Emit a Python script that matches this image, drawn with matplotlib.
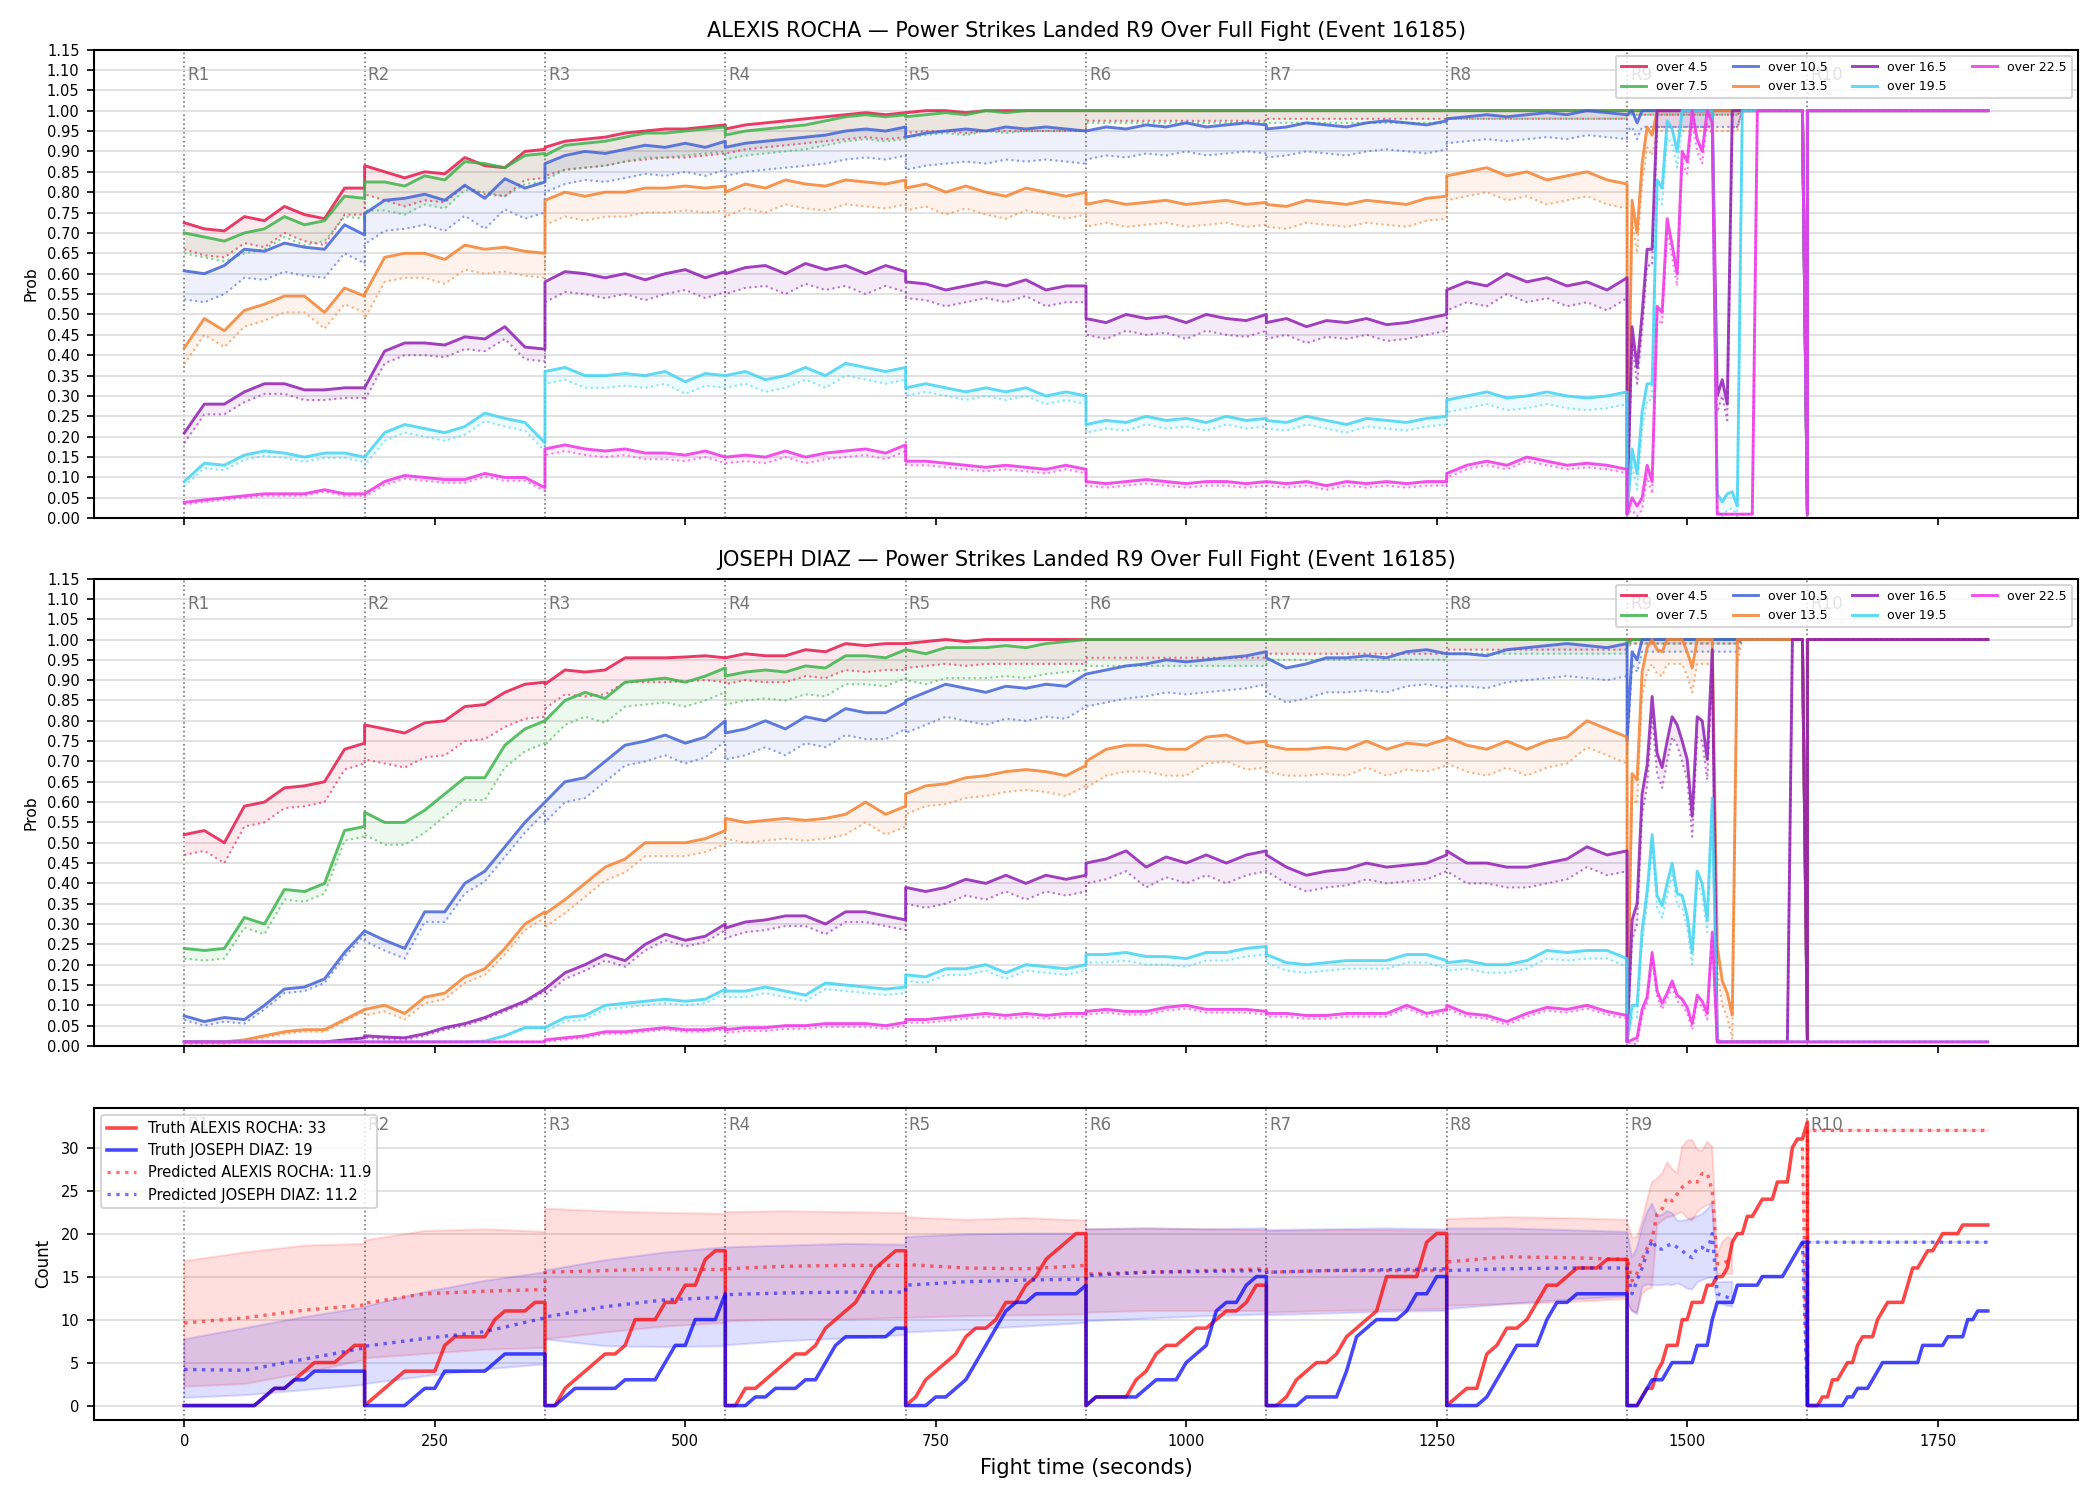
import numpy as np
import matplotlib.pyplot as plt
import matplotlib.transforms as mtransforms

plt.rcParams['font.family'] = ['DejaVu Sans']
plt.rcParams['axes.linewidth'] = 1.0

LINES = ['over 4.5', 'over 7.5', 'over 10.5', 'over 13.5', 'over 16.5', 'over 19.5', 'over 22.5']
COLORS = ['#e6194b', '#3cb44b', '#4363d8', '#f58231', '#911eb4', '#42d4f4', '#f032e6']
ROUND_STARTS = [0, 180, 360, 540, 720, 900, 1080, 1260, 1440, 1620]
END_T = 1800

# rounds 1-8 sampled every 20 s (0..180 within round); rows = rounds
R_45 = [0.725, 0.71, 0.705, 0.74, 0.73, 0.765, 0.745, 0.735, 0.81, 0.81,
        0.865, 0.85, 0.835, 0.85, 0.845, 0.885, 0.865, 0.86, 0.90, 0.905,
        0.91, 0.925, 0.93, 0.935, 0.945, 0.95, 0.955, 0.955, 0.96, 0.965,
        0.955, 0.965, 0.97, 0.975, 0.98, 0.985, 0.99, 0.995, 0.99, 0.995,
        0.995, 1.0, 1.0, 0.995, 1.0, 1.0, 1.0, 1.0, 1.0, 1.0,
        1.0, 1.0, 1.0, 1.0, 1.0, 1.0, 1.0, 1.0, 1.0, 1.0,
        1.0, 1.0, 1.0, 1.0, 1.0, 1.0, 1.0, 1.0, 1.0, 1.0,
        1.0, 1.0, 1.0, 1.0, 1.0, 1.0, 1.0, 1.0, 1.0, 1.0]
R_75 = [0.70, 0.69, 0.68, 0.70, 0.71, 0.74, 0.72, 0.73, 0.79, 0.785,
        0.825, 0.825, 0.815, 0.84, 0.83, 0.875, 0.87, 0.86, 0.89, 0.895,
        0.89, 0.915, 0.92, 0.925, 0.935, 0.945, 0.945, 0.95, 0.955, 0.96,
        0.94, 0.95, 0.955, 0.96, 0.965, 0.975, 0.985, 0.99, 0.985, 0.99,
        0.985, 0.99, 0.995, 0.99, 1.0, 0.995, 1.0, 1.0, 1.0, 1.0,
        1.0, 1.0, 1.0, 1.0, 1.0, 1.0, 1.0, 1.0, 1.0, 1.0,
        1.0, 1.0, 1.0, 1.0, 1.0, 1.0, 1.0, 1.0, 1.0, 1.0,
        1.0, 1.0, 1.0, 1.0, 1.0, 1.0, 1.0, 1.0, 1.0, 1.0]
R_105 = [0.607, 0.60, 0.62, 0.66, 0.655, 0.675, 0.665, 0.66, 0.72, 0.695,
         0.747, 0.78, 0.785, 0.795, 0.78, 0.817, 0.785, 0.833, 0.81, 0.825,
         0.87, 0.89, 0.90, 0.895, 0.905, 0.915, 0.91, 0.92, 0.91, 0.925,
         0.91, 0.92, 0.925, 0.93, 0.935, 0.94, 0.95, 0.955, 0.95, 0.96,
         0.935, 0.945, 0.95, 0.955, 0.95, 0.96, 0.955, 0.96, 0.955, 0.95,
         0.95, 0.96, 0.955, 0.965, 0.96, 0.97, 0.96, 0.965, 0.97, 0.965,
         0.955, 0.96, 0.97, 0.965, 0.96, 0.97, 0.975, 0.97, 0.965, 0.975,
         0.98, 0.985, 0.99, 0.985, 0.99, 0.995, 0.99, 1.0, 0.995, 0.99]
R_135 = [0.418, 0.49, 0.46, 0.51, 0.525, 0.545, 0.545, 0.505, 0.565, 0.545,
         0.55, 0.64, 0.65, 0.65, 0.635, 0.67, 0.66, 0.665, 0.655, 0.65,
         0.78, 0.80, 0.79, 0.80, 0.80, 0.81, 0.81, 0.815, 0.81, 0.815,
         0.80, 0.82, 0.81, 0.83, 0.82, 0.815, 0.83, 0.825, 0.82, 0.83,
         0.81, 0.82, 0.80, 0.815, 0.80, 0.79, 0.81, 0.80, 0.79, 0.80,
         0.77, 0.78, 0.77, 0.775, 0.78, 0.77, 0.775, 0.78, 0.77, 0.775,
         0.77, 0.765, 0.78, 0.775, 0.77, 0.78, 0.775, 0.77, 0.785, 0.79,
         0.84, 0.85, 0.86, 0.84, 0.85, 0.83, 0.84, 0.85, 0.83, 0.82]
R_165 = [0.209, 0.28, 0.28, 0.31, 0.33, 0.33, 0.315, 0.315, 0.32, 0.32,
         0.32, 0.41, 0.43, 0.43, 0.425, 0.445, 0.44, 0.47, 0.42, 0.415,
         0.58, 0.605, 0.60, 0.59, 0.60, 0.585, 0.60, 0.61, 0.59, 0.605,
         0.60, 0.615, 0.62, 0.60, 0.625, 0.61, 0.62, 0.60, 0.62, 0.605,
         0.58, 0.575, 0.56, 0.57, 0.58, 0.57, 0.585, 0.56, 0.57, 0.57,
         0.49, 0.48, 0.50, 0.49, 0.495, 0.48, 0.50, 0.49, 0.485, 0.50,
         0.48, 0.49, 0.47, 0.485, 0.48, 0.49, 0.475, 0.48, 0.49, 0.50,
         0.56, 0.58, 0.57, 0.60, 0.58, 0.59, 0.57, 0.58, 0.56, 0.59]
R_195 = [0.09, 0.135, 0.13, 0.155, 0.165, 0.16, 0.15, 0.16, 0.16, 0.15,
         0.15, 0.21, 0.23, 0.22, 0.21, 0.225, 0.258, 0.245, 0.235, 0.185,
         0.36, 0.37, 0.35, 0.35, 0.355, 0.35, 0.36, 0.335, 0.355, 0.35,
         0.35, 0.36, 0.34, 0.35, 0.37, 0.35, 0.38, 0.37, 0.36, 0.37,
         0.32, 0.33, 0.32, 0.31, 0.32, 0.31, 0.32, 0.30, 0.31, 0.30,
         0.23, 0.24, 0.235, 0.25, 0.24, 0.245, 0.235, 0.25, 0.24, 0.245,
         0.24, 0.235, 0.25, 0.24, 0.23, 0.245, 0.24, 0.235, 0.245, 0.25,
         0.29, 0.30, 0.31, 0.295, 0.30, 0.31, 0.30, 0.295, 0.30, 0.31]
R_225 = [0.039, 0.045, 0.05, 0.055, 0.06, 0.06, 0.06, 0.07, 0.06, 0.06,
         0.06, 0.09, 0.105, 0.10, 0.095, 0.095, 0.11, 0.10, 0.10, 0.075,
         0.17, 0.18, 0.17, 0.165, 0.17, 0.16, 0.16, 0.155, 0.165, 0.15,
         0.15, 0.155, 0.15, 0.165, 0.15, 0.16, 0.165, 0.17, 0.16, 0.18,
         0.14, 0.14, 0.135, 0.13, 0.125, 0.13, 0.125, 0.12, 0.13, 0.12,
         0.09, 0.085, 0.09, 0.095, 0.09, 0.085, 0.09, 0.09, 0.085, 0.09,
         0.09, 0.085, 0.09, 0.08, 0.09, 0.085, 0.09, 0.085, 0.09, 0.09,
         0.11, 0.13, 0.14, 0.13, 0.15, 0.14, 0.13, 0.135, 0.13, 0.12]

D_45 = [0.52, 0.53, 0.50, 0.59, 0.60, 0.635, 0.64, 0.65, 0.73, 0.745,
        0.79, 0.78, 0.77, 0.795, 0.80, 0.835, 0.84, 0.87, 0.89, 0.895,
        0.89, 0.925, 0.92, 0.925, 0.955, 0.955, 0.955, 0.957, 0.96, 0.955,
        0.955, 0.965, 0.96, 0.96, 0.975, 0.97, 0.99, 0.985, 0.99, 0.99,
        0.99, 0.995, 1.0, 0.995, 1.0, 1.0, 1.0, 1.0, 1.0, 1.0,
        1.0, 1.0, 1.0, 1.0, 1.0, 1.0, 1.0, 1.0, 1.0, 1.0,
        1.0, 1.0, 1.0, 1.0, 1.0, 1.0, 1.0, 1.0, 1.0, 1.0,
        1.0, 1.0, 1.0, 1.0, 1.0, 1.0, 1.0, 1.0, 1.0, 1.0]
D_75 = [0.24, 0.235, 0.24, 0.316, 0.30, 0.385, 0.38, 0.40, 0.53, 0.54,
        0.575, 0.55, 0.55, 0.58, 0.62, 0.66, 0.66, 0.74, 0.78, 0.80,
        0.80, 0.85, 0.87, 0.855, 0.895, 0.90, 0.905, 0.895, 0.91, 0.93,
        0.91, 0.92, 0.925, 0.92, 0.935, 0.93, 0.96, 0.96, 0.955, 0.975,
        0.975, 0.965, 0.98, 0.98, 0.98, 0.985, 0.98, 0.99, 0.995, 1.0,
        1.0, 1.0, 1.0, 1.0, 1.0, 1.0, 1.0, 1.0, 1.0, 1.0,
        1.0, 1.0, 1.0, 1.0, 1.0, 1.0, 1.0, 1.0, 1.0, 1.0,
        1.0, 1.0, 1.0, 1.0, 1.0, 1.0, 1.0, 1.0, 1.0, 1.0]
D_105 = [0.074, 0.06, 0.07, 0.065, 0.10, 0.14, 0.145, 0.165, 0.23, 0.283,
         0.283, 0.26, 0.24, 0.33, 0.33, 0.40, 0.43, 0.49, 0.55, 0.60,
         0.60, 0.65, 0.66, 0.70, 0.74, 0.75, 0.765, 0.745, 0.76, 0.80,
         0.77, 0.78, 0.80, 0.78, 0.81, 0.80, 0.83, 0.82, 0.82, 0.845,
         0.85, 0.87, 0.89, 0.88, 0.87, 0.885, 0.88, 0.89, 0.885, 0.915,
         0.915, 0.925, 0.935, 0.94, 0.95, 0.945, 0.95, 0.955, 0.96, 0.97,
         0.955, 0.93, 0.94, 0.955, 0.955, 0.96, 0.955, 0.97, 0.975, 0.965,
         0.965, 0.965, 0.96, 0.975, 0.98, 0.985, 0.99, 0.985, 0.98, 0.99]
D_135 = [0.01, 0.01, 0.01, 0.015, 0.025, 0.035, 0.04, 0.04, 0.065, 0.09,
         0.09, 0.10, 0.08, 0.12, 0.13, 0.17, 0.19, 0.24, 0.30, 0.33,
         0.325, 0.36, 0.40, 0.44, 0.46, 0.50, 0.50, 0.50, 0.51, 0.53,
         0.56, 0.55, 0.555, 0.56, 0.555, 0.56, 0.57, 0.60, 0.57, 0.59,
         0.62, 0.64, 0.645, 0.66, 0.665, 0.675, 0.68, 0.675, 0.665, 0.69,
         0.70, 0.73, 0.74, 0.74, 0.73, 0.73, 0.76, 0.765, 0.745, 0.75,
         0.74, 0.73, 0.73, 0.735, 0.73, 0.75, 0.73, 0.745, 0.74, 0.755,
         0.76, 0.74, 0.73, 0.75, 0.73, 0.75, 0.76, 0.80, 0.78, 0.76]
D_165 = [0.01, 0.01, 0.01, 0.01, 0.01, 0.01, 0.01, 0.01, 0.015, 0.02,
         0.025, 0.022, 0.02, 0.03, 0.045, 0.055, 0.07, 0.09, 0.11, 0.14,
         0.14, 0.18, 0.20, 0.225, 0.21, 0.25, 0.275, 0.26, 0.27, 0.30,
         0.29, 0.305, 0.31, 0.32, 0.32, 0.30, 0.33, 0.33, 0.32, 0.31,
         0.39, 0.38, 0.39, 0.41, 0.40, 0.42, 0.40, 0.42, 0.41, 0.42,
         0.45, 0.46, 0.48, 0.44, 0.465, 0.45, 0.47, 0.45, 0.47, 0.48,
         0.47, 0.44, 0.42, 0.43, 0.435, 0.45, 0.44, 0.445, 0.45, 0.47,
         0.48, 0.45, 0.45, 0.44, 0.44, 0.45, 0.46, 0.49, 0.47, 0.48]
D_195 = [0.01, 0.01, 0.01, 0.01, 0.01, 0.01, 0.01, 0.01, 0.01, 0.01,
         0.01, 0.01, 0.01, 0.01, 0.01, 0.01, 0.012, 0.025, 0.045, 0.045,
         0.045, 0.07, 0.075, 0.10, 0.105, 0.11, 0.115, 0.11, 0.115, 0.14,
         0.135, 0.135, 0.145, 0.135, 0.125, 0.155, 0.15, 0.145, 0.14, 0.145,
         0.175, 0.17, 0.19, 0.19, 0.20, 0.18, 0.20, 0.195, 0.19, 0.20,
         0.225, 0.225, 0.23, 0.22, 0.22, 0.215, 0.23, 0.23, 0.24, 0.245,
         0.225, 0.205, 0.20, 0.205, 0.21, 0.21, 0.21, 0.225, 0.225, 0.21,
         0.205, 0.21, 0.20, 0.20, 0.21, 0.235, 0.23, 0.235, 0.235, 0.215]
D_225 = [0.01, 0.01, 0.01, 0.01, 0.01, 0.01, 0.01, 0.01, 0.01, 0.01,
         0.01, 0.01, 0.01, 0.01, 0.01, 0.01, 0.01, 0.01, 0.01, 0.01,
         0.015, 0.02, 0.025, 0.035, 0.035, 0.04, 0.045, 0.04, 0.04, 0.045,
         0.04, 0.045, 0.045, 0.05, 0.05, 0.055, 0.055, 0.055, 0.05, 0.058,
         0.065, 0.065, 0.07, 0.075, 0.08, 0.075, 0.08, 0.075, 0.08, 0.08,
         0.085, 0.09, 0.085, 0.085, 0.095, 0.10, 0.09, 0.09, 0.09, 0.085,
         0.08, 0.08, 0.075, 0.075, 0.08, 0.08, 0.08, 0.10, 0.08, 0.09,
         0.10, 0.08, 0.075, 0.06, 0.08, 0.095, 0.09, 0.10, 0.085, 0.075]

# round 9 sampled every 5 s (1440..1620); last point is the round-end reset
R9_R = [
    [1.0] * 36 + [0.01],
    [1.0] * 36 + [0.01],
    [0.99, 1.0, 0.97, 1.0] + [1.0] * 32 + [0.01],
    [0.01, 0.78, 0.70, 0.87, 0.96, 0.94] + [1.0] * 30 + [0.01],
    [0.01, 0.47, 0.37, 0.50, 0.66, 0.66] + [1.0] * 12 + [0.30, 0.34, 0.28] + [1.0] * 15 + [0.01],
    [0.01, 0.17, 0.11, 0.26, 0.33, 0.33, 0.83, 0.81, 0.975, 0.955, 0.90] + [1.0] * 7
    + [0.06, 0.04, 0.06, 0.065, 0.03] + [1.0] * 13 + [0.01],
    [0.01, 0.05, 0.03, 0.05, 0.13, 0.09, 0.52, 0.505, 0.735, 0.67, 0.60, 0.90, 0.875,
     1.0, 0.93, 0.90, 1.0, 0.97] + [0.01] * 8 + [1.0] * 10 + [0.01],
]
R9_D = [
    [1.0] * 36 + [0.01],
    [0.99] + [1.0] * 35 + [0.01],
    [0.75, 0.97, 0.95] + [1.0] * 33 + [0.01],
    [0.01, 0.67, 0.655, 0.92, 0.98, 1.0, 0.975, 0.97, 1.0, 1.0, 1.0, 1.0, 0.97, 0.93,
     1.0, 1.0, 1.0, 1.0] + [0.245, 0.16, 0.13, 0.076] + [1.0] * 14 + [0.01],
    [0.01, 0.31, 0.35, 0.62, 0.69, 0.86, 0.72, 0.685, 0.75, 0.81, 0.79, 0.75, 0.705,
     0.565, 0.81, 0.80, 0.705, 0.975] + [0.01] * 15 + [1.0] * 3 + [0.01],
    [0.01, 0.10, 0.10, 0.285, 0.38, 0.52, 0.37, 0.345, 0.40, 0.45, 0.375, 0.37, 0.32,
     0.23, 0.43, 0.40, 0.31, 0.61] + [0.015] + [0.01] * 18,
    [0.01, 0.015, 0.02, 0.09, 0.12, 0.23, 0.135, 0.105, 0.13, 0.16, 0.125, 0.115,
     0.095, 0.055, 0.125, 0.11, 0.08, 0.28] + [0.01] * 19,
]
# round 10 level per line
R10_R = [1.0, 1.0, 1.0, 1.0, 1.0, 1.0, 1.0]
R10_D = [1.0, 1.0, 1.0, 1.0, 1.0, 0.01, 0.01]

# gap between model line and the dotted companion, per round R1..R9
GAP_R = [[0.065, 0.07, 0.07, 0.06, 0.05, 0.025, 0.02, 0.02, 0.01],
         [0.05, 0.07, 0.06, 0.06, 0.05, 0.03, 0.03, 0.02, 0.01],
         [0.07, 0.075, 0.07, 0.07, 0.08, 0.07, 0.07, 0.06, 0.04],
         [0.04, 0.06, 0.06, 0.06, 0.055, 0.055, 0.055, 0.06, 0.05],
         [0.025, 0.03, 0.05, 0.05, 0.04, 0.04, 0.04, 0.05, 0.04],
         [0.012, 0.02, 0.03, 0.03, 0.02, 0.02, 0.02, 0.03, 0.04],
         [0.005, 0.008, 0.015, 0.015, 0.01, 0.01, 0.01, 0.01, 0.03]]
GAP_D = [[0.05, 0.085, 0.06, 0.065, 0.06, 0.045, 0.035, 0.025, 0.01],
         [0.025, 0.055, 0.06, 0.07, 0.075, 0.065, 0.05, 0.035, 0.01],
         [0.01, 0.025, 0.05, 0.065, 0.08, 0.08, 0.085, 0.08, 0.03],
         [0.005, 0.015, 0.033, 0.05, 0.05, 0.065, 0.065, 0.065, 0.06],
         [0.0, 0.005, 0.015, 0.025, 0.04, 0.05, 0.04, 0.05, 0.05],
         [0.0, 0.0, 0.01, 0.015, 0.015, 0.02, 0.02, 0.02, 0.03],
         [0.0, 0.0, 0.005, 0.008, 0.008, 0.008, 0.008, 0.008, 0.015]]

# ---- bottom panel: truth counts, R1-R8 every 10 s ----
TRUTH_R = [0, 0, 0, 0, 0, 0, 0, 0, 1, 2, 2, 3, 4, 5, 5, 5, 6, 7, 7,
           0, 1, 2, 3, 4, 4, 4, 4, 7, 8, 8, 8, 8, 10, 11, 11, 11, 12, 12,
           0, 0, 2, 3, 4, 5, 6, 6, 7, 10, 10, 10, 12, 12, 14, 14, 17, 18, 18,
           0, 0, 2, 2, 3, 4, 5, 6, 6, 7, 9, 10, 11, 12, 14, 16, 17, 18, 18,
           0, 1, 3, 4, 5, 6, 8, 9, 9, 10, 12, 12, 14, 15, 17, 18, 19, 20, 20,
           0, 1, 1, 1, 1, 3, 4, 6, 7, 7, 8, 9, 9, 10, 11, 11, 12, 14, 14,
           0, 0, 1, 3, 4, 5, 5, 6, 8, 9, 10, 11, 15, 15, 15, 15, 19, 20, 20,
           0, 1, 2, 2, 6, 7, 9, 9, 10, 12, 14, 14, 15, 16, 16, 16, 17, 17, 17]
TRUTH_D = [0, 0, 0, 0, 0, 0, 0, 0, 1, 2, 2, 3, 3, 4, 4, 4, 4, 4, 4,
           0, 0, 0, 0, 0, 1, 2, 2, 4, 4, 4, 4, 4, 5, 6, 6, 6, 6, 6,
           0, 0, 1, 2, 2, 2, 2, 2, 3, 3, 3, 3, 5, 7, 7, 10, 10, 10, 13,
           0, 0, 0, 1, 1, 2, 2, 2, 3, 3, 5, 7, 8, 8, 8, 8, 8, 9, 9,
           0, 0, 0, 1, 1, 2, 3, 5, 7, 9, 11, 12, 12, 13, 13, 13, 13, 13, 14,
           0, 1, 1, 1, 1, 1, 2, 3, 3, 3, 5, 6, 7, 11, 12, 12, 14, 15, 15,
           0, 0, 0, 0, 1, 1, 1, 1, 4, 8, 9, 10, 10, 10, 11, 13, 13, 15, 15,
           0, 0, 0, 0, 1, 3, 5, 7, 7, 7, 10, 12, 12, 13, 13, 13, 13, 13, 13]
# R9 and R10 every 5 s
TRUTH9_R = [0, 0, 0, 1, 2, 2, 4, 5, 7, 7, 7, 10, 10, 12, 12, 12, 14, 14, 15, 15, 16, 19,
            20, 20, 22, 22, 23, 24, 24, 24, 26, 26, 26, 30, 31, 31, 33]
TRUTH9_D = [0, 0, 0, 1, 2, 3, 3, 3, 4, 5, 5, 5, 5, 5, 7, 7, 7, 10, 12, 12, 12, 12,
            14, 14, 14, 14, 14, 15, 15, 15, 15, 15, 16, 17, 18, 19, 19]
TRUTH10_R = [0, 0, 0, 1, 1, 3, 3, 4, 5, 5, 7, 8, 8, 8, 10, 11, 12, 12, 12, 12, 14, 16,
             16, 17, 18, 18, 19, 20, 20, 20, 20, 21, 21, 21, 21, 21, 21]
TRUTH10_D = [0, 0, 0, 0, 0, 0, 0, 0, 1, 1, 2, 2, 2, 3, 4, 5, 5, 5, 5, 5, 5, 5,
             5, 7, 7, 7, 7, 7, 8, 8, 8, 8, 10, 10, 11, 11, 11]

# predicted mean and band, R1-R8 at 0/60/120/180 s of each round
PRED_R = [9.6, 10.2, 11.1, 11.7, 11.9, 13.0, 13.3, 13.5, 15.5, 15.7, 15.9, 15.8,
          15.9, 16.2, 16.3, 16.3, 16.4, 16.0, 15.9, 16.3, 15.3, 15.5, 15.7, 15.9,
          15.5, 15.7, 15.7, 15.7, 16.7, 17.3, 17.2, 17.0]
HI_R = [16.8, 17.8, 18.6, 18.8, 19.2, 20.3, 20.5, 20.2, 22.9, 22.6, 22.4, 22.3,
        22.5, 22.6, 22.5, 22.4, 21.9, 21.6, 21.8, 21.5, 20.5, 20.6, 20.5, 20.4,
        20.3, 20.4, 20.4, 20.3, 21.7, 21.9, 21.8, 21.6]
LO_R = [2.2, 2.5, 3.8, 5.3, 5.5, 6.0, 6.5, 6.7, 7.7, 8.5, 9.2, 9.6,
        9.8, 10.0, 10.0, 10.2, 10.2, 10.4, 10.5, 10.6, 10.8, 11.0, 11.0, 11.0,
        10.8, 11.0, 11.1, 11.2, 11.6, 11.8, 12.0, 12.4]
PRED_D = [4.2, 4.1, 5.4, 6.7, 6.9, 7.8, 8.6, 10.2, 10.3, 11.5, 12.3, 12.6,
          12.9, 13.1, 13.2, 13.2, 14.0, 14.4, 14.6, 14.7, 15.1, 15.5, 15.6, 15.7,
          15.5, 15.7, 15.8, 15.9, 15.7, 15.9, 16.0, 16.0]
HI_D = [7.7, 9.0, 10.3, 11.4, 11.5, 13.2, 14.5, 15.5, 15.7, 16.9, 17.8, 18.4,
        18.4, 18.6, 18.8, 18.7, 19.6, 19.9, 20.0, 20.0, 20.5, 20.6, 20.5, 20.6,
        20.4, 20.5, 20.6, 20.5, 20.6, 20.6, 20.4, 20.2]
LO_D = [0.9, 1.2, 1.8, 2.4, 2.5, 3.4, 4.2, 4.8, 7.7, 6.9, 6.8, 6.9,
        7.0, 7.5, 7.8, 8.2, 8.5, 8.8, 9.2, 9.6, 9.8, 10.1, 10.4, 10.6,
        10.5, 10.7, 10.9, 11.0, 11.2, 11.8, 12.3, 12.7]
# R9 every 5 s from 1440 up to 1545 (prediction stops there)
PRED9_R = [17.2, 14.5, 15.4, 17.0, 18.3, 19.4, 22.3, 22.9, 24.2, 23.8, 24.6, 25.4,
           25.8, 26.2, 26.0, 27.0, 27.0, 25.0, 16.5, 16.5, 16.8, 16.7]
HI9_R = [21.5, 19.5, 19.6, 21.5, 24.0, 26.0, 26.4, 27.0, 28.3, 27.5, 27.0, 30.1,
         30.8, 30.9, 29.8, 29.6, 30.7, 30.1, 17.6, 19.0, 19.6, 19.4]
LO9_R = [12.0, 11.0, 10.8, 13.0, 13.5, 13.7, 21.0, 21.5, 21.9, 22.0, 22.3, 22.5,
         21.8, 21.5, 22.5, 23.0, 23.3, 23.5, 15.3, 15.3, 15.3, 15.3]
PRED9_D = [15.7, 13.0, 14.6, 16.0, 17.8, 19.2, 18.2, 18.2, 18.6, 18.8, 18.4, 18.0,
           17.5, 17.2, 18.3, 18.4, 17.8, 20.0, 13.0, 12.8, 12.6, 12.4]
HI9_D = [20.3, 17.2, 18.4, 20.8, 22.5, 23.5, 22.0, 22.2, 22.6, 22.4, 21.5, 21.5,
         21.6, 21.8, 22.0, 22.3, 22.8, 23.5, 14.3, 14.4, 14.4, 14.4]
LO9_D = [12.0, 11.0, 10.6, 13.8, 14.1, 14.0, 14.0, 14.0, 14.1, 14.0, 14.2, 14.0,
         13.6, 13.5, 14.3, 14.6, 14.8, 14.9, 12.0, 11.8, 11.6, 11.5]
# end of R9 (1615, 1620) and the flat R10 prediction
PRED_END_R = [30.0, 0.0]
PRED_END_D = [19.0, 0.0]
PRED10_R = 32.0
PRED10_D = 19.0

TOTAL_R, TOTAL_D = 33, 19
PRED_TOT_R, PRED_TOT_D = 11.9, 11.2

# ---- time grids ----
t20 = np.concatenate([s + np.arange(0, 181, 20) for s in ROUND_STARTS[:8]])
t10 = np.concatenate([s + np.arange(0, 181, 10) for s in ROUND_STARTS[:8]])
t60 = np.concatenate([s + np.arange(0, 181, 60) for s in ROUND_STARTS[:8]])
t9 = 1440 + np.arange(0, 181, 5)
t10r = 1620 + np.arange(0, 181, 5)


def prob_series(main, r9, r10, gaps):
    t = np.concatenate([t20, t9, [1620, END_T]])
    v = np.concatenate([main, r9, [r10, r10]])
    g_main = np.repeat(gaps[:8], 10)
    r9 = np.array(r9)
    g9 = np.where((t9 < 1555) & (r9 > 0.011), gaps[8], 0.0)
    g = np.concatenate([g_main, g9, [0.0, 0.0]])
    lo = np.clip(v - g, 0.005, None)
    return t, v, lo


def draw_rounds(ax, ylab):
    trans = mtransforms.blended_transform_factory(ax.transData, ax.transAxes)
    for i, s in enumerate(ROUND_STARTS):
        ax.axvline(s, color='#555555', ls=':', lw=0.8, alpha=0.8, zorder=0)
        ax.text(s + 3, 0.945, 'R%d' % (i + 1), transform=trans, fontsize=8,
                color='#666666', va='center', ha='left', alpha=0.9)
    ax.grid(axis='y', color='#dddddd', lw=0.8)
    ax.set_axisbelow(True)
    ax.set_ylabel(ylab, fontsize=7.5)
    ax.tick_params(labelsize=7)
    ax.set_xlim(-90, 1890)


fig = plt.figure(figsize=(14, 10), dpi=150)
ax1 = fig.add_axes([0.0448, 0.6545, 0.9447, 0.3125])
ax2 = fig.add_axes([0.0448, 0.3027, 0.9447, 0.3116])
ax3 = fig.add_axes([0.0448, 0.0535, 0.9447, 0.2081])

panels = [
    (ax1, 'ALEXIS ROCHA', [R_45, R_75, R_105, R_135, R_165, R_195, R_225], R9_R, R10_R, GAP_R),
    (ax2, 'JOSEPH DIAZ', [D_45, D_75, D_105, D_135, D_165, D_195, D_225], R9_D, R10_D, GAP_D),
]
for ax, name, mains, r9s, r10s, gaps in panels:
    for i, lab in enumerate(LINES):
        t, v, lo = prob_series(mains[i], r9s[i], r10s[i], gaps[i])
        c = COLORS[i]
        ax.fill_between(t, lo, v, color=c, alpha=0.09, lw=0)
        ax.plot(t, lo, color=c, ls=':', lw=1.0, alpha=0.6)
        ax.plot(t, v, color=c, lw=1.4, alpha=0.85, label=lab)
    ax.set_ylim(0, 1.15)
    ax.set_yticks(np.arange(0, 1.151, 0.05))
    ax.set_yticklabels(['%.2f' % y for y in np.arange(0, 1.151, 0.05)])
    ax.set_title('%s — Power Strikes Landed R9 Over Full Fight (Event 16185)' % name, fontsize=10)
    draw_rounds(ax, 'Prob')
    ax.set_xticks([0, 250, 500, 750, 1000, 1250, 1500, 1750])
    ax.set_xticklabels([])
    ax.legend(loc='upper right', ncol=4, fontsize=6)

# ---- bottom panel ----
players = [
    ('ALEXIS ROCHA', 'red', TRUTH_R, TRUTH9_R, TRUTH10_R, PRED_R, HI_R, LO_R,
     PRED9_R, HI9_R, LO9_R, PRED_END_R, PRED10_R, TOTAL_R, PRED_TOT_R),
    ('JOSEPH DIAZ', 'blue', TRUTH_D, TRUTH9_D, TRUTH10_D, PRED_D, HI_D, LO_D,
     PRED9_D, HI9_D, LO9_D, PRED_END_D, PRED10_D, TOTAL_D, PRED_TOT_D),
]
truth_h, pred_h = [], []
for (name, c, tr, tr9, tr10, pm, ph, pl, pm9, ph9, pl9, pend, p10, tot, ptot) in players:
    n9 = len(pm9)
    gap = np.full(len(t9) - n9 - 2, np.nan)
    tp = np.concatenate([t60, t9, [1620, END_T]])
    mean = np.concatenate([pm, pm9, gap, pend, [p10, p10]])
    hi = np.concatenate([ph, ph9, gap, pend, [p10, p10]])
    lo = np.concatenate([pl, pl9, gap, pend, [p10, p10]])
    ax3.fill_between(tp, lo, hi, color=c, alpha=0.13)
    hp, = ax3.plot(tp, mean, color=c, ls=':', lw=1.6, alpha=0.55,
                   label='Predicted %s: %.1f' % (name, ptot))
    tt = np.concatenate([t10, t9, t10r])
    tv = np.concatenate([tr, tr9, tr10])
    ht, = ax3.plot(tt, tv, color=c, lw=1.7, alpha=0.72, label='Truth %s: %d' % (name, tot))
    truth_h.append(ht)
    pred_h.append(hp)

draw_rounds(ax3, 'Count')
ax3.set_ylabel('Count', fontsize=8)
ax3.set_xticks([0, 250, 500, 750, 1000, 1250, 1500, 1750])
ax3.set_yticks([0, 5, 10, 15, 20, 25, 30])
ax3.set_xlabel('Fight time (seconds)', fontsize=10)
ax3.legend(handles=truth_h + pred_h, loc='upper left', fontsize=7)

fig.savefig('out.png', dpi=150)
